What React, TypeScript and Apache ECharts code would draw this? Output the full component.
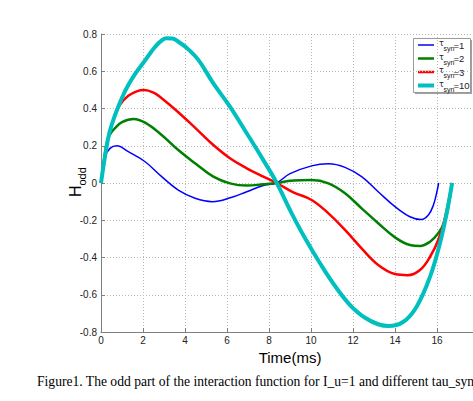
import React, { useEffect, useRef } from "react";
import * as echarts from "echarts";

// Odd part of the interaction function H_odd(t) for I_u = 1
const tauSyn = [1, 2, 3, 10];
const seriesColors = ["#0000ff", "#008000", "#ff0000", "#00bfbf"];
const seriesWidths = [1.5, 2.5, 2.5, 4];

const tTau1 = [0, 0.19, 0.43, 0.75, 1.3, 2.1, 2.89, 3.68, 4.48, 5.3, 6.2, 6.94, 7.73, 8.35, 9.0, 10.03, 10.83, 11.62, 12.41, 13.2, 14.0, 14.71, 15.25, 15.59, 15.83, 15.98, 16.08];
const hTau1 = [0, 0.141, 0.186, 0.2, 0.168, 0.114, 0.034, -0.038, -0.082, -0.1, -0.078, -0.047, -0.013, 0, 0.05, 0.092, 0.103, 0.084, 0.034, -0.047, -0.127, -0.181, -0.196, -0.172, -0.118, -0.055, 0];

const tTau2 = [0, 0.12, 0.27, 0.45, 0.67, 1.0, 1.55, 2.1, 2.89, 3.68, 4.48, 5.35, 6.14, 6.94, 7.73, 8.37, 9.0, 10.03, 10.83, 11.62, 12.41, 13.2, 14.0, 14.71, 15.19, 15.67, 16.06, 16.33, 16.5, 16.72];
const hTau2 = [0, 0.1, 0.215, 0.265, 0.295, 0.327, 0.344, 0.324, 0.258, 0.177, 0.106, 0.034, -0.002, -0.014, -0.007, 0, 0.012, 0.016, -0.002, -0.055, -0.136, -0.216, -0.292, -0.333, -0.338, -0.315, -0.27, -0.216, -0.15, 0];

const tTau3 = [0, 0.15, 0.3, 0.45, 0.65, 0.9, 1.3, 1.7, 2.05, 2.5, 2.89, 3.68, 4.56, 5.35, 6.14, 6.94, 7.73, 8.37, 9.16, 10.03, 10.83, 11.62, 12.41, 13.2, 14.0, 14.6, 15.19, 15.67, 16.06, 16.35, 16.72];
const hTau3 = [0, 0.115, 0.215, 0.29, 0.36, 0.42, 0.468, 0.492, 0.499, 0.485, 0.455, 0.38, 0.288, 0.204, 0.133, 0.079, 0.034, 0, -0.05, -0.091, -0.163, -0.252, -0.351, -0.44, -0.489, -0.495, -0.467, -0.396, -0.306, -0.2, 0];

const tTau10 = [0, 0.2, 0.4, 0.67, 1.0, 1.3, 1.65, 2.0, 2.3, 2.57, 2.85, 3.1, 3.4, 3.7, 4.1, 4.48, 4.75, 5.35, 6.14, 6.94, 7.73, 8.37, 9.0, 9.63, 10.43, 11.22, 12.01, 12.81, 13.68, 14.4, 15.03, 15.67, 16.14, 16.46, 16.72];
const hTau10 = [0, 0.15, 0.27, 0.365, 0.458, 0.526, 0.59, 0.643, 0.69, 0.73, 0.762, 0.777, 0.776, 0.757, 0.724, 0.682, 0.643, 0.535, 0.41, 0.267, 0.123, 0, -0.145, -0.279, -0.431, -0.565, -0.673, -0.739, -0.768, -0.745, -0.664, -0.503, -0.324, -0.163, 0];

const timeSeries = [tTau1, tTau2, tTau3, tTau10];
const valueSeries = [hTau1, hTau2, hTau3, hTau10];

const xAxisRange = { min: 0, max: 18, interval: 2 };
const yAxisRange = { min: -0.8, max: 0.8, interval: 0.2 };

const captionText = "Figure1. The odd part of the interaction function for I_u=1 and different tau_syn";
const xAxisTitle = "Time(ms)";

export default function App() {
  const ref = useRef<HTMLDivElement>(null);

  useEffect(() => {
    if (!ref.current) return;
    const chart = echarts.init(ref.current, undefined, { renderer: "svg" });

    const series = tauSyn.map((tau, i) => ({
      name: "tau_syn=" + tau,
      type: "line",
      data: timeSeries[i].map((t, j) => [t, valueSeries[i][j]]),
      showSymbol: false,
      smooth: 0.4,
      lineStyle: { color: seriesColors[i], width: seriesWidths[i] },
      itemStyle: { color: seriesColors[i] },
      z: 3 + i,
    }));

    const gridStyle = { color: "#b8b8b8", type: [1, 2], width: 1 };
    const axisText = { color: "#222", fontSize: 10, fontFamily: "Liberation Sans, Arial, sans-serif" };

    // legend box drawn as graphic elements
    const legendTop = 45;
    const rowGap = 13.5;
    const legendItems: any[] = [
      {
        type: "rect",
        shape: { x: 415, y: 40, width: 57, height: 54 },
        style: { fill: "#a0a0a0" },
        silent: true,
      },
      {
        type: "rect",
        shape: { x: 413.5, y: 38.5, width: 57, height: 54 },
        style: { fill: "#ffffff", stroke: "#9a9a9a", lineWidth: 1 },
        silent: true,
      },
    ];
    tauSyn.forEach((tau, i) => {
      const y = legendTop + i * rowGap;
      legendItems.push(
        {
          type: "line",
          shape: { x1: 418, y1: y, x2: 434, y2: y },
          style: { stroke: seriesColors[i], lineWidth: seriesWidths[i] },
          silent: true,
        },
        {
          type: "text",
          x: 439,
          y: y - 1.5,
          style: { text: "τ", fontSize: 8, fontFamily: "DejaVu Sans", fill: "#222", verticalAlign: "middle" },
          silent: true,
        },
        {
          type: "text",
          x: 443.5,
          y: y + 3.5,
          style: { text: "syn", fontSize: 7, fontFamily: "Liberation Sans", fill: "#222", verticalAlign: "middle" },
          silent: true,
        },
        {
          type: "text",
          x: 453.5,
          y: y,
          style: { text: "=" + tau, fontSize: 9.5, fontFamily: "Liberation Sans", fill: "#222", verticalAlign: "middle" },
          silent: true,
        }
      );
    });

    chart.setOption({
      animation: false,
      backgroundColor: "#ffffff",
      grid: { left: 101, top: 34, width: 378, height: 298, containLabel: false },
      xAxis: {
        type: "value",
        ...xAxisRange,
        name: xAxisTitle,
        nameLocation: "middle",
        nameGap: 13,
        nameTextStyle: { fontSize: 15, color: "#000", fontFamily: "Liberation Sans, Arial, sans-serif" },
        axisLine: { show: true, onZero: false, lineStyle: { color: "#808080", width: 1 } },
        axisTick: { show: true, inside: true, length: 4, lineStyle: { color: "#808080" } },
        axisLabel: {
          ...axisText,
          margin: 3,
          // the last tick sits past the visible edge, so its label is left out
          formatter: (v: number) => (v >= xAxisRange.max ? "" : String(v)),
        },
        splitLine: { show: true, lineStyle: gridStyle },
      },
      yAxis: {
        type: "value",
        ...yAxisRange,
        axisLine: { show: true, onZero: false, lineStyle: { color: "#808080", width: 1 } },
        axisTick: { show: true, inside: true, length: 4, lineStyle: { color: "#808080" } },
        axisLabel: { ...axisText, margin: 4, formatter: (v: number) => String(Math.round(v * 10) / 10) },
        splitLine: { show: true, lineStyle: gridStyle },
      },
      series,
      graphic: [
        {
          type: "group",
          x: 75,
          y: 197,
          rotation: Math.PI / 2,
          silent: true,
          children: [
            {
              type: "text",
              x: 0,
              y: 0,
              style: { text: "H", fontSize: 16, fontFamily: "Liberation Sans, Arial, sans-serif", fill: "#000", verticalAlign: "middle", align: "left" },
            },
            {
              type: "text",
              x: 11.5,
              y: 7,
              style: { text: "odd", fontSize: 11, fontFamily: "Liberation Sans, Arial, sans-serif", fill: "#000", verticalAlign: "middle", align: "left" },
            },
          ],
        },
        ...legendItems,
        {
          type: "text",
          x: 37,
          y: 381,
          silent: true,
          style: { text: captionText, fontSize: 13.6, fontFamily: "Liberation Serif, Times New Roman, serif", fill: "#000", verticalAlign: "middle" },
        },
      ],
    });

    return () => chart.dispose();
  }, []);

  return (
    <div style={{ position: "fixed", left: 0, top: 0, width: 473, height: 401, overflow: "hidden", background: "#fff" }}>
      <div ref={ref} style={{ width: 540, height: 401 }} />
    </div>
  );
}
